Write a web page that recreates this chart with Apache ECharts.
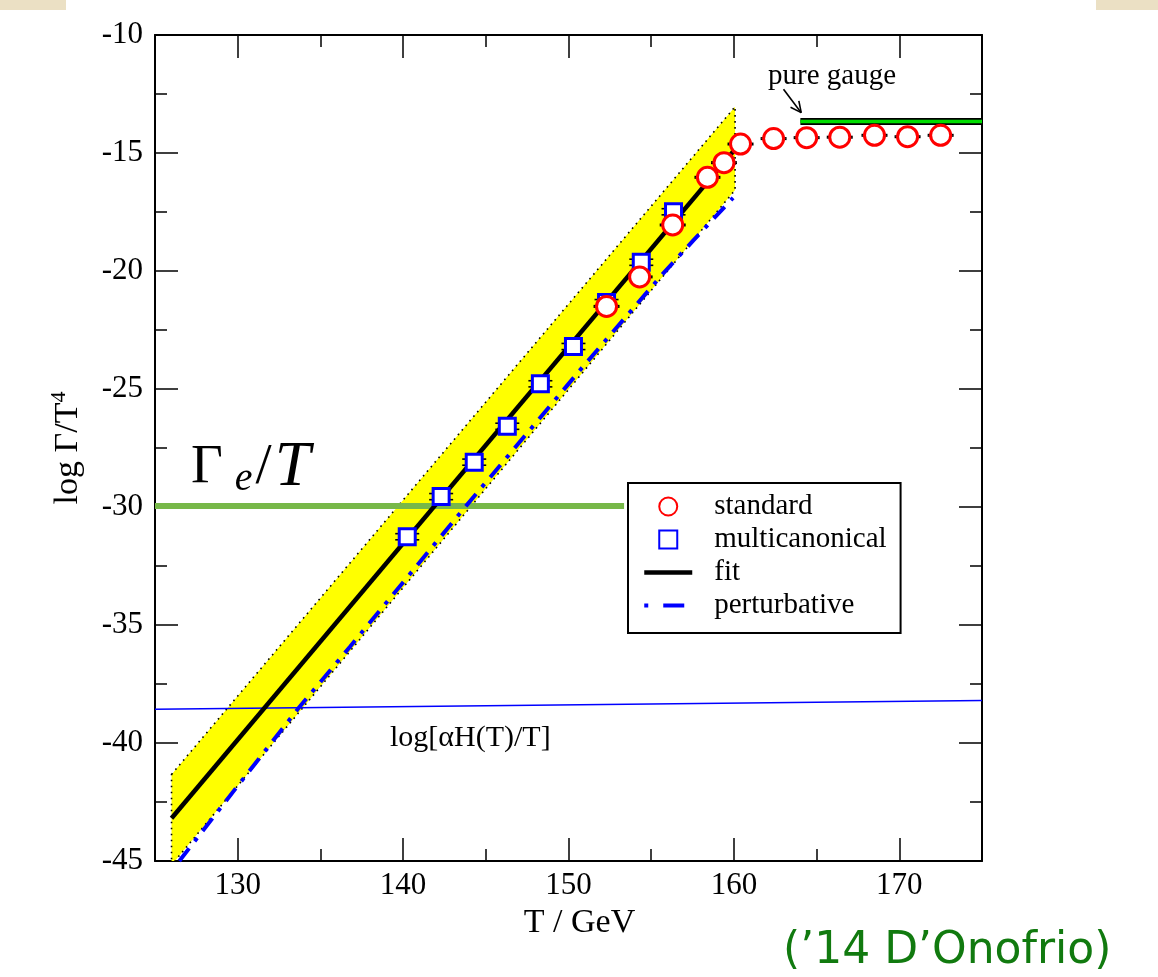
<!DOCTYPE html>
<html>
<head>
<meta charset="utf-8">
<script src="https://cdn.jsdelivr.net/npm/echarts@6/dist/echarts.min.js"></script>
<style>
html,body{margin:0;padding:0;background:#fff;}
#chart{width:1158px;height:977px;}
</style>
</head>
<body>
<div id="chart"></div>
<script>
// ---- data ----
const stdT   = [152.3, 154.3, 156.3, 158.4, 159.4, 160.4, 162.4, 164.4, 166.4, 168.5, 170.5, 172.5];
const stdV   = [-21.5, -20.25, -18.05, -16.03, -15.41, -14.62, -14.39, -14.35, -14.33, -14.25, -14.31, -14.25];
const stdErr = [0.03, 0.03, 0.03, 0.03, 0.03, 0.03, 0.03, 0.03, 0.03, 0.03, 0.03, 0.03];
const mcT    = [140.25, 142.3, 144.3, 146.3, 148.3, 150.3, 152.3, 154.4, 156.35];
const mcV    = [-31.26, -29.56, -28.1, -26.58, -24.78, -23.2, -21.34, -19.63, -17.49];
const mcErr  = [0.13, 0.13, 0.13, 0.13, 0.13, 0.13, 0.13, 0.13, 0.13];
const fitT   = [126.0, 160.0];
const fitV   = [-43.19, -14.9];
const pertT  = [126.47, 129.73, 133.67, 136.79, 143.85, 150.7, 155.73, 157.55, 159.95];
const pertV  = [-45.0, -42.06, -38.53, -35.92, -29.92, -24.2, -20.1, -18.7, -16.9];
const bandT  = [126.0, 160.07, 160.07, 126.2, 126.0];
const bandV  = [-41.33, -13.04, -16.57, -45.0, -45.0];
const hubT   = [125, 175];
const hubV   = [-38.57, -38.2];
const gamT   = [125, 153.36];
const gamV   = [-29.96, -29.96];
const pureT  = [164.02, 175];
const pureV  = [-13.67, -13.67];
const arrowT = [163.0, 164.07];
const arrowV = [-12.3, -13.29];
const xMajor = [130, 140, 150, 160, 170];
const seriesNames = ['standard', 'multicanonical', 'fit', 'perturbative'];

const SERIF = 'Liberation Serif, Times New Roman, serif';
const zip = (a, b) => a.map((v, i) => [v, b[i]]);

const chart = echarts.init(document.getElementById('chart'), null, {renderer: 'canvas'});

const GRID = {left: 155, right: 176, top: 35, bottom: 116};
const majorX = (pos, labels) => ({
  type: 'value', gridIndex: 0, position: pos, min: 125, max: 175,
  axisLine: {show: true, onZero: false, lineStyle: {color: '#000', width: 2}},
  axisTick: {show: true, inside: true, length: 23, customValues: xMajor, lineStyle: {color: '#000', width: 1.5}},
  axisLabel: labels ? {show: true, customValues: xMajor, margin: 9, color: '#000', fontFamily: SERIF, fontSize: 31} : {show: false},
  splitLine: {show: false}
});
const minorX = (pos) => ({
  type: 'value', gridIndex: 1, position: pos, min: 125, max: 175, interval: 5,
  axisLine: {show: false, onZero: false},
  axisTick: {show: true, inside: true, length: 12, lineStyle: {color: '#000', width: 1.5}},
  axisLabel: {show: false}, splitLine: {show: false}
});
const yAx = (pos, labels) => ({
  type: 'value', gridIndex: 0, position: pos, min: -45, max: -10, interval: 5,
  axisLine: {show: true, onZero: false, lineStyle: {color: '#000', width: 2}},
  axisTick: {show: true, inside: true, length: 23, lineStyle: {color: '#000', width: 1.5}},
  minorTick: {show: true, splitNumber: 2, length: 12, lineStyle: {color: '#000', width: 1.5}},
  axisLabel: labels ? {show: true, margin: 12, color: '#000', fontFamily: SERIF, fontSize: 31} : {show: false},
  splitLine: {show: false}, minorSplitLine: {show: false}
});

const xa0 = majorX('bottom', true);
xa0.name = 'T / GeV';
xa0.nameLocation = 'middle';
xa0.nameGap = 42;
xa0.nameTextStyle = {color: '#000', fontFamily: SERIF, fontSize: 34, padding: [0, 0, 0, 22]};
const ya0 = yAx('left', true);
ya0.name = 'log Γ/T{s|4}';
ya0.nameLocation = 'middle';
ya0.nameGap = 67;
ya0.nameTextStyle = {color: '#000', fontFamily: SERIF, fontSize: 34,
  rich: {s: {fontFamily: SERIF, fontSize: 22, color: '#000', padding: [0, 0, 18, 0]}}};

const capRender = (halfW) => function (params, api) {
  const x = api.value(0), y = api.value(1), e = api.value(2);
  const hi = api.coord([x, y + e]);
  const lo = api.coord([x, y - e]);
  const st = {stroke: '#000', lineWidth: 1.6};
  return {type: 'group', children: [
    {type: 'line', shape: {x1: hi[0] - halfW, y1: hi[1], x2: hi[0] + halfW, y2: hi[1]}, style: st},
    {type: 'line', shape: {x1: lo[0] - halfW, y1: lo[1], x2: lo[0] + halfW, y2: lo[1]}, style: st},
    {type: 'line', shape: {x1: hi[0], y1: hi[1], x2: lo[0], y2: lo[1]}, style: st}
  ]};
};

const option = {
  animation: false,
  backgroundColor: '#fff',
  grid: [Object.assign({}, GRID), Object.assign({}, GRID)],
  xAxis: [xa0, majorX('top', false), minorX('bottom'), minorX('top')],
  yAxis: [ya0, yAx('right', false),
    {type: 'value', gridIndex: 1, min: -45, max: -10, show: false}],
  legend: {
    orient: 'vertical', left: 628, top: 483,
    padding: [9, 14, 13, 14], itemGap: 4, itemWidth: 48, itemHeight: 18,
    borderColor: '#000', borderWidth: 2, backgroundColor: '#fff',
    textStyle: {fontFamily: SERIF, fontSize: 29, color: '#000', lineHeight: 29, padding: [0, 0, 0, 17]},
    data: [
      {name: seriesNames[0], icon: 'circle'},
      {name: seriesNames[1], icon: 'path://M0,0L10,0L10,10L0,10Z'},
      {name: seriesNames[2], lineStyle: {width: 4.5, color: '#000', type: 'solid'}},
      {name: seriesNames[3], lineStyle: {type: [4, 15, 21, 30], width: 4, color: '#0000ff'}}
    ]
  },
  series: [
    {
      type: 'custom', name: 'band', xAxisIndex: 0, yAxisIndex: 0, silent: true,
      data: [[bandT[0], bandV[0]]], z: 1,
      renderItem: function (params, api) {
        return {type: 'polygon',
          shape: {points: bandT.map((t, i) => api.coord([t, bandV[i]]))},
          style: {fill: '#ffff00', stroke: '#000', lineWidth: 1.6, lineDash: [1.6, 4.4]}};
      }
    },
    {type: 'line', name: 'hubble', data: zip(hubT, hubV), symbol: 'none', z: 2,
      lineStyle: {color: '#0000ff', width: 1.6}},
    {type: 'line', name: 'gammaE', data: zip(gamT, gamV), symbol: 'none', z: 2,
      lineStyle: {color: '#77b849', width: 6}},
    {type: 'line', name: 'pure-border', data: zip(pureT, pureV), symbol: 'none', z: 2,
      lineStyle: {color: '#000', width: 7}},
    {type: 'line', name: 'pure', data: zip(pureT, pureV), symbol: 'none', z: 3,
      lineStyle: {color: '#00dd00', width: 3.5}},
    {
      type: 'custom', name: 'arrow', silent: true, z: 3,
      data: [[arrowT[0], arrowV[0]]],
      renderItem: function (params, api) {
        const p0 = api.coord([arrowT[0], arrowV[0]]);
        const p1 = api.coord([arrowT[1], arrowV[1]]);
        const a = Math.atan2(p1[1] - p0[1], p1[0] - p0[0]);
        const L = 12, w = 0.45;
        const st = {stroke: '#000', lineWidth: 1.6};
        return {type: 'group', children: [
          {type: 'line', shape: {x1: p0[0], y1: p0[1], x2: p1[0], y2: p1[1]}, style: st},
          {type: 'line', shape: {x1: p1[0], y1: p1[1], x2: p1[0] - L * Math.cos(a - w), y2: p1[1] - L * Math.sin(a - w)}, style: st},
          {type: 'line', shape: {x1: p1[0], y1: p1[1], x2: p1[0] - L * Math.cos(a + w), y2: p1[1] - L * Math.sin(a + w)}, style: st}
        ]};
      }
    },
    {type: 'line', name: 'fit', data: zip(fitT, fitV), symbol: 'none', z: 4,
      itemStyle: {color: 'rgba(0,0,0,0)', borderWidth: 0},
      lineStyle: {color: '#000', width: 4.5}},
    {type: 'line', name: 'perturbative', data: zip(pertT, pertV), symbol: 'none', z: 4,
      itemStyle: {color: 'rgba(0,0,0,0)', borderWidth: 0},
      lineStyle: {color: '#0000ff', width: 4, type: [16, 9, 4, 9], dashOffset: 0}},
    {type: 'custom', name: 'mcErr', z: 5, silent: true,
      data: mcT.map((t, i) => [t, mcV[i], mcErr[i]]), renderItem: capRender(12)},
    {type: 'custom', name: 'stdErr', z: 5, silent: true,
      data: stdT.map((t, i) => [t, stdV[i], stdErr[i]]), renderItem: capRender(13)},
    {type: 'scatter', name: 'multicanonical', data: zip(mcT, mcV), z: 6,
      symbol: 'rect', symbolSize: 16,
      itemStyle: {color: '#fff', borderColor: '#0000ff', borderWidth: 3, opacity: 1}},
    {type: 'scatter', name: 'standard', data: zip(stdT, stdV), z: 7,
      symbol: 'circle', symbolSize: 20,
      itemStyle: {color: '#fff', borderColor: '#ff0000', borderWidth: 3, opacity: 1}}
  ],
  graphic: [
    {type: 'rect', left: 0, top: 0, shape: {width: 66, height: 10}, z: 100,
      style: {fill: '#ebe0c4'}},
    {type: 'rect', left: 1096, top: 0, shape: {width: 62, height: 10}, z: 100,
      style: {fill: '#ebe0c4'}},
    {type: 'text', x: 768, y: 76, z: 100,
      style: {text: 'pure gauge', fontFamily: SERIF, fontSize: 29, fill: '#000', verticalAlign: 'middle'}},
    {type: 'text', x: 390, y: 738, z: 100,
      style: {text: 'log[αH(T)/T]', fontFamily: SERIF, fontSize: 30, fill: '#000', verticalAlign: 'middle'}},
    {type: 'text', x: 191, y: 468, z: 100,
      style: {text: '{g|Γ}{e|e}{s|/}{t|T}', fill: '#000', verticalAlign: 'middle',
        rich: {
          g: {fontFamily: SERIF, fontSize: 55, fill: '#000'},
          e: {fontFamily: SERIF, fontSize: 40, fontStyle: 'italic', fill: '#000', padding: [22, 3, 0, 12]},
          s: {fontFamily: SERIF, fontSize: 58, fill: '#000', padding: [0, 3, 0, 0]},
          t: {fontFamily: SERIF, fontSize: 64, fontStyle: 'italic', fill: '#000'}
        }}},
    {type: 'text', x: 783, y: 952, z: 100,
      style: {text: '(’14 D’Onofrio)', fontFamily: 'DejaVu Sans, Noto Sans, sans-serif', fontSize: 44,
        fill: '#117a0f', verticalAlign: 'middle'}}
  ]
};
chart.setOption(option);
</script>
</body>
</html>
